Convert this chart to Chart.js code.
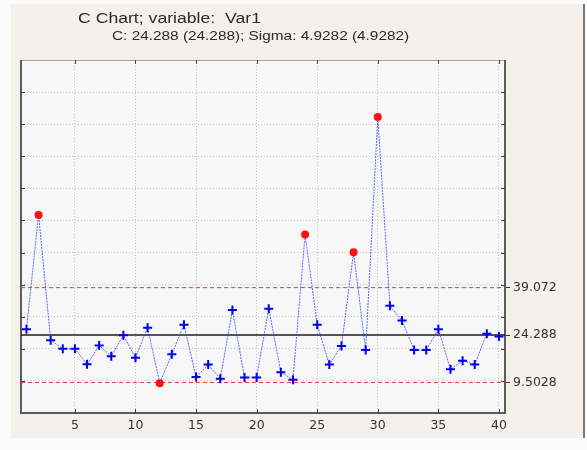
<!DOCTYPE html>
<html>
<head>
<meta charset="utf-8">
<script src="https://cdn.jsdelivr.net/npm/chart.js@4.4.1/dist/chart.umd.min.js"></script>
<style>
  body { margin: 0; background: #fbfbfb; }
  #wrap { position: relative; width: 587px; height: 450px; }
  #panel { position: absolute; left: 11px; top: 4px; width: 572px; height: 434px;
           background: #f4f1ec; border-right: 2px solid #7a7a7a; }
  canvas { position: absolute; left: 0; top: 0; }
  .ttl { position: absolute; white-space: pre; color: #2a2a2a;
         font-family: "Liberation Sans", Arial, sans-serif; transform-origin: left center; }
  #t1 { left: 78px; top: 10px; font-size: 14px; line-height: 16px; transform: scaleX(1.26); }
  #t2 { left: 112px; top: 29px; font-size: 12px; line-height: 14px; transform: scaleX(1.28); }
</style>
</head>
<body>
<div id="wrap">
  <div id="panel"></div>
  <canvas id="c" width="587" height="450"></canvas>
  <div class="ttl" id="t1">C Chart; variable:  Var1</div>
  <div class="ttl" id="t2">C: 24.288 (24.288); Sigma: 4.9282 (4.9282)</div>
</div>
<script>
// --- chart data ---
const sampleNo = [1, 2, 3, 4, 5, 6, 7, 8, 9, 10, 11, 12, 13, 14, 15, 16, 17, 18, 19, 20,
  21, 22, 23, 24, 25, 26, 27, 28, 29, 30, 31, 32, 33, 34, 35, 36, 37, 38, 39, 40];
const counts = [26.1, 61.7, 22.7, 20.0, 20.0, 15.2, 21.0, 17.7, 24.2, 17.2,
  26.6, 9.3, 18.3, 27.5, 11.2, 15.1, 10.7, 32.1, 11.1, 11.1,
  32.5, 12.7, 10.4, 55.6, 27.5, 15.1, 20.9, 50.1, 19.6, 92.2,
  33.4, 28.8, 19.6, 19.6, 26.1, 13.6, 16.3, 15.1, 24.7, 23.8];
const centerLine = 24.288;
const upperLimit = 39.072;
const lowerLimit = 9.5028;
const limitValues = [lowerLimit, centerLine, upperLimit];
const limitLabels = ["9.5028", "24.288", "39.072"];
const xTicks = [5, 10, 15, 20, 25, 30, 35, 40];
const yGrid = [10, 20, 30, 40, 50, 60, 70, 80, 90, 100];
const xMin = 0.55, xMax = 40.5, yMin = 0, yMax = 110;

const outOfControl = (v) => v > upperLimit || v < lowerLimit;

// plot background, frame and small inside ticks
const framePlugin = {
  id: "frame",
  beforeDraw(chart) {
    const { ctx, chartArea: a } = chart;
    ctx.save();
    ctx.fillStyle = "#f7f7f7";
    ctx.fillRect(a.left, a.top, a.right - a.left, a.bottom - a.top);
    ctx.restore();
  },
  beforeDatasetsDraw(chart) {
    const { ctx, chartArea: a, scales } = chart;
    ctx.save();
    ctx.strokeStyle = "#a0a0a0";
    ctx.lineWidth = 1;
    ctx.beginPath();
    ctx.moveTo(a.left, a.top + 0.5);
    ctx.lineTo(a.right, a.top + 0.5);
    ctx.stroke();
    ctx.strokeStyle = "#5c5c5c";
    ctx.lineWidth = 2;
    ctx.beginPath();
    ctx.moveTo(a.left, a.top);
    ctx.lineTo(a.left, a.bottom);
    ctx.lineTo(a.right, a.bottom);
    ctx.lineTo(a.right, a.top);
    ctx.stroke();
    // inside ticks
    ctx.strokeStyle = "#404040";
    ctx.lineWidth = 1;
    ctx.beginPath();
    yGrid.forEach((v) => {
      const y = Math.round(scales.y.getPixelForValue(v)) + 0.5;
      ctx.moveTo(a.left, y); ctx.lineTo(a.left + 4, y);
      ctx.moveTo(a.right - 4, y); ctx.lineTo(a.right, y);
    });
    xTicks.forEach((v) => {
      const x = Math.round(scales.x.getPixelForValue(v)) + 0.5;
      ctx.moveTo(x, a.bottom); ctx.lineTo(x, a.bottom - 4);
      ctx.moveTo(x, a.top); ctx.lineTo(x, a.top + 4);
    });
    ctx.stroke();
    ctx.restore();
  },
};

const hLine = (v) => [{ x: xMin, y: v }, { x: xMax, y: v }];

new Chart(document.getElementById("c").getContext("2d"), {
  type: "line",
  data: {
    datasets: [
      {
        label: "Var1",
        data: sampleNo.map((n, i) => ({ x: n, y: counts[i] })),
        borderColor: "rgba(50, 50, 255, 0.75)",
        borderWidth: 1,
        borderDash: [2, 1],
        tension: 0,
        pointStyle: (c) => (outOfControl(c.raw.y) ? "circle" : "cross"),
        pointRadius: (c) => (outOfControl(c.raw.y) ? 3 : 4.5),
        pointBorderWidth: 2,
        pointBorderColor: (c) => (outOfControl(c.raw.y) ? "#ff1010" : "#0000f0"),
        pointBackgroundColor: (c) => (outOfControl(c.raw.y) ? "#ff1010" : "#0000f0"),
      },
      {
        label: "CL",
        data: hLine(centerLine),
        borderColor: "#1e1e1e",
        borderWidth: 1.4,
        pointRadius: 0,
      },
      {
        label: "UCL",
        data: hLine(upperLimit),
        borderColor: "#f03a3a",
        borderWidth: 1,
        borderDash: [4, 3],
        pointRadius: 0,
      },
      {
        label: "LCL",
        data: hLine(lowerLimit),
        borderColor: "#f03a3a",
        borderWidth: 1,
        borderDash: [4, 3],
        pointRadius: 0,
      },
    ],
  },
  options: {
    responsive: false,
    animation: false,
    devicePixelRatio: 1,
    layout: { padding: { top: 60, left: 0, right: 0, bottom: 0 } },
    plugins: { legend: { display: false }, tooltip: { enabled: false } },
    scales: {
      x: {
        type: "linear",
        min: xMin,
        max: xMax,
        afterBuildTicks: (s) => { s.ticks = xTicks.map((v) => ({ value: v })); },
        afterFit: (s) => { s.height = 37; },
        grid: { color: "#c4c4c4", borderDash: [1, 2], drawTicks: false },
        border: { display: false, dash: [1, 2] },
        ticks: { padding: 5, color: "#333", font: { family: "DejaVu Sans", size: 12.5 } },
      },
      y: {
        min: yMin,
        max: yMax,
        afterBuildTicks: (s) => { s.ticks = yGrid.map((v) => ({ value: v })); },
        afterFit: (s) => { s.width = 21; },
        grid: { color: "#c4c4c4", drawTicks: false },
        border: { display: false, dash: [1, 2] },
        ticks: { display: false },
      },
      y2: {
        position: "right",
        min: yMin,
        max: yMax,
        afterBuildTicks: (s) => { s.ticks = limitValues.map((v) => ({ value: v })); },
        afterFit: (s) => { s.width = 82; },
        grid: { drawOnChartArea: false, drawTicks: true, tickLength: 5, color: "#333" },
        border: { display: false },
        ticks: {
          padding: 3,
          color: "#333",
          font: { family: "DejaVu Sans", size: 12.5 },
          callback: (v) => limitLabels[limitValues.indexOf(v)],
        },
      },
    },
  },
  plugins: [framePlugin],
});
</script>
</body>
</html>
